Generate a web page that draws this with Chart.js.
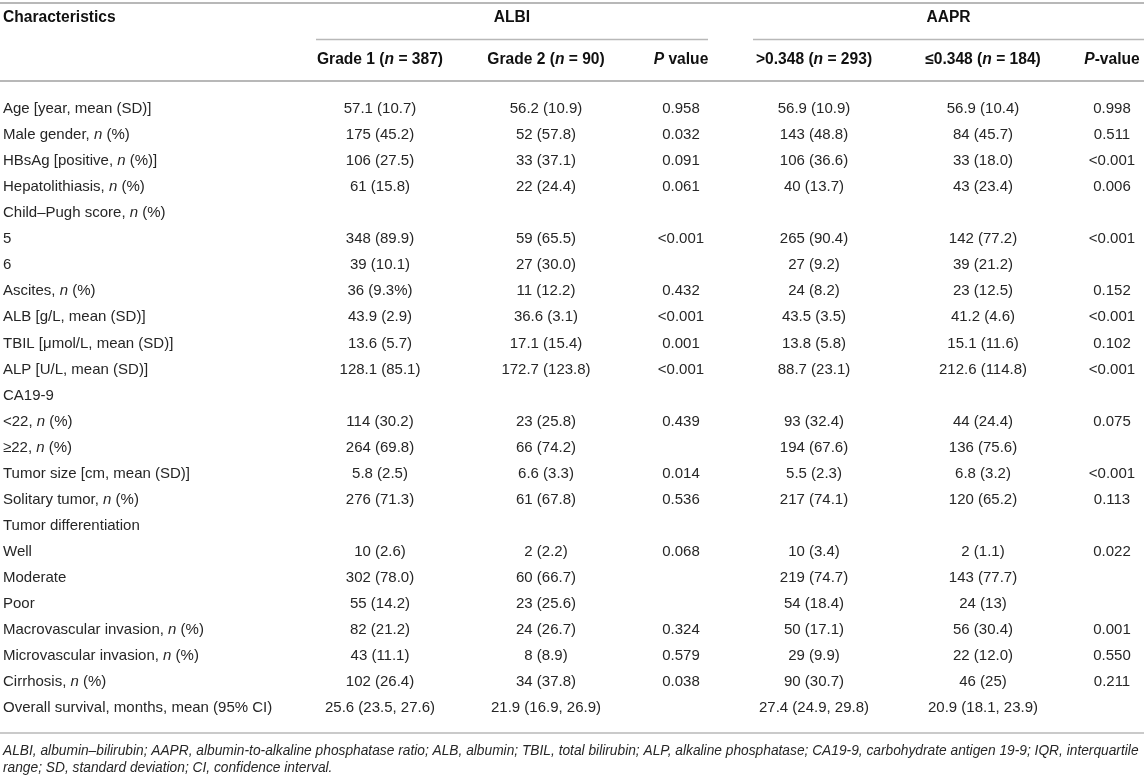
<!DOCTYPE html>
<html>
<head>
<meta charset="utf-8">
<title>ALBI / AAPR characteristics</title>
<script src="https://cdn.jsdelivr.net/npm/chart.js@4.4.1/dist/chart.umd.min.js"></script>
<style>
  html, body { margin: 0; padding: 0; background: #fff; }
  #wrap { width: 1144px; height: 780px; position: relative; }
</style>
</head>
<body>
<div id="wrap"><canvas id="table"></canvas></div>
<script>
// _x_ marks italic text
const rowLabels = [
  'Age [year, mean (SD)]',
  'Male gender, _n_ (%)',
  'HBsAg [positive, _n_ (%)]',
  'Hepatolithiasis, _n_ (%)',
  'Child\u2013Pugh score, _n_ (%)',
  '5',
  '6',
  'Ascites, _n_ (%)',
  'ALB [g/L, mean (SD)]',
  'TBIL [\u03bcmol/L, mean (SD)]',
  'ALP [U/L, mean (SD)]',
  'CA19-9',
  '<22, _n_ (%)',
  '\u226522, _n_ (%)',
  'Tumor size [cm, mean (SD)]',
  'Solitary tumor, _n_ (%)',
  'Tumor differentiation',
  'Well',
  'Moderate',
  'Poor',
  'Macrovascular invasion, _n_ (%)',
  'Microvascular invasion, _n_ (%)',
  'Cirrhosis, _n_ (%)',
  'Overall survival, months, mean (95% CI)'
];

const albiGrade1 = ['57.1 (10.7)', '175 (45.2)', '106 (27.5)', '61 (15.8)', '', '348 (89.9)', '39 (10.1)', '36 (9.3%)',
  '43.9 (2.9)', '13.6 (5.7)', '128.1 (85.1)', '', '114 (30.2)', '264 (69.8)', '5.8 (2.5)', '276 (71.3)', '',
  '10 (2.6)', '302 (78.0)', '55 (14.2)', '82 (21.2)', '43 (11.1)', '102 (26.4)', '25.6 (23.5, 27.6)'];
const albiGrade2 = ['56.2 (10.9)', '52 (57.8)', '33 (37.1)', '22 (24.4)', '', '59 (65.5)', '27 (30.0)', '11 (12.2)',
  '36.6 (3.1)', '17.1 (15.4)', '172.7 (123.8)', '', '23 (25.8)', '66 (74.2)', '6.6 (3.3)', '61 (67.8)', '',
  '2 (2.2)', '60 (66.7)', '23 (25.6)', '24 (26.7)', '8 (8.9)', '34 (37.8)', '21.9 (16.9, 26.9)'];
const albiP = ['0.958', '0.032', '0.091', '0.061', '', '<0.001', '', '0.432', '<0.001', '0.001', '<0.001', '',
  '0.439', '', '0.014', '0.536', '', '0.068', '', '', '0.324', '0.579', '0.038', ''];
const aaprHigh = ['56.9 (10.9)', '143 (48.8)', '106 (36.6)', '40 (13.7)', '', '265 (90.4)', '27 (9.2)', '24 (8.2)',
  '43.5 (3.5)', '13.8 (5.8)', '88.7 (23.1)', '', '93 (32.4)', '194 (67.6)', '5.5 (2.3)', '217 (74.1)', '',
  '10 (3.4)', '219 (74.7)', '54 (18.4)', '50 (17.1)', '29 (9.9)', '90 (30.7)', '27.4 (24.9, 29.8)'];
const aaprLow = ['56.9 (10.4)', '84 (45.7)', '33 (18.0)', '43 (23.4)', '', '142 (77.2)', '39 (21.2)', '23 (12.5)',
  '41.2 (4.6)', '15.1 (11.6)', '212.6 (114.8)', '', '44 (24.4)', '136 (75.6)', '6.8 (3.2)', '120 (65.2)', '',
  '2 (1.1)', '143 (77.7)', '24 (13)', '56 (30.4)', '22 (12.0)', '46 (25)', '20.9 (18.1, 23.9)'];
const aaprP = ['0.998', '0.511', '<0.001', '0.006', '', '<0.001', '', '0.152', '<0.001', '0.102', '<0.001', '',
  '0.075', '', '<0.001', '0.113', '', '0.022', '', '', '0.001', '0.550', '0.211', ''];

const groupHeaders = ['ALBI', 'AAPR'];
const columnHeaders = ['Grade 1 (_n_ = 387)', 'Grade 2 (_n_ = 90)', '_P_ value',
  '>0.348 (_n_ = 293)', '\u22640.348 (_n_ = 184)', '_P_-value'];
const footnote = [
  '_ALBI, albumin\u2013bilirubin; AAPR, albumin-to-alkaline phosphatase ratio; ALB, albumin; TBIL, total bilirubin; ALP, alkaline phosphatase; CA19-9, carbohydrate antigen 19-9; IQR, interquartile_',
  '_range; SD, standard deviation; CI, confidence interval._'
];

// layout (x in scale units of the table width)
const FAMILY = '"Liberation Sans", Arial, Helvetica, sans-serif';
const labelX = 3;
const columnX = [380, 546, 681, 814, 983, 1112];
const groupSpans = [[316, 708], [753, 1144]];
const footnoteRight = 1140;

const valueColumns = [albiGrade1, albiGrade2, albiP, aaprHigh, aaprLow, aaprP];

function fontFor(italic, weight, size) {
  return (italic ? 'italic ' : '') + weight + ' ' + size + 'px ' + FAMILY;
}

function richWidth(ctx, text, weight, size) {
  return text.split('_').reduce((sum, p, i) => {
    ctx.font = fontFor(i % 2, weight, size);
    return sum + ctx.measureText(p).width;
  }, 0);
}

function drawRich(ctx, text, x, y, align, weight, size, color) {
  const parts = text.split('_');
  const total = richWidth(ctx, text, weight, size);
  let cx = align === 'center' ? x - total / 2 : align === 'right' ? x - total : x;
  ctx.fillStyle = color;
  ctx.textAlign = 'left';
  ctx.textBaseline = 'middle';
  parts.forEach((p, i) => {
    ctx.font = fontFor(i % 2, weight, size);
    ctx.fillText(p, cx, y);
    cx += ctx.measureText(p).width;
  });
}

function hLine(ctx, x1, x2, y, w) {
  ctx.save();
  ctx.strokeStyle = '#b8b8b8';
  ctx.lineWidth = w;
  ctx.beginPath();
  ctx.moveTo(x1, y);
  ctx.lineTo(x2, y);
  ctx.stroke();
  ctx.restore();
}

const tablePlugin = {
  id: 'tableText',
  afterDatasetsDraw(chart) {
    const ctx = chart.ctx;
    const xs = chart.scales.x;
    const area = chart.chartArea;
    const full = [xs.getPixelForValue(0), xs.getPixelForValue(1144)];
    ctx.save();

    // rules
    hLine(ctx, full[0], full[1], 3, 2);
    groupSpans.forEach(s => hLine(ctx, xs.getPixelForValue(s[0]), xs.getPixelForValue(s[1]), 39.5, 1.5));
    hLine(ctx, full[0], full[1], 81, 2);
    hLine(ctx, full[0], full[1], area.bottom + 12, 1.5);

    // headers
    drawRich(ctx, 'Characteristics', xs.getPixelForValue(labelX), 18, 'left', 'bold', 15.6, '#111');
    groupHeaders.forEach((g, i) => {
      const mid = (xs.getPixelForValue(groupSpans[i][0]) + xs.getPixelForValue(groupSpans[i][1])) / 2;
      drawRich(ctx, g, mid, 18, 'center', 'bold', 15.6, '#111');
    });
    columnHeaders.forEach((h, i) => {
      drawRich(ctx, h, xs.getPixelForValue(columnX[i]), 60, 'center', 'bold', 15.6, '#111');
    });

    // cells, positioned by the dataset points
    chart.data.datasets.forEach((ds, di) => {
      const meta = chart.getDatasetMeta(di);
      meta.data.forEach((pt, i) => {
        const txt = ds.cells[i];
        if (!txt) return;
        drawRich(ctx, txt, pt.x, pt.y, ds.align, 'normal', 15, '#262626');
      });
    });

    // footnote, first line fills the table width
    const avail = xs.getPixelForValue(footnoteRight) - xs.getPixelForValue(labelX);
    const fs = 14 * avail / richWidth(ctx, footnote[0], 'normal', 14);
    footnote.forEach((f, i) => {
      drawRich(ctx, f, xs.getPixelForValue(labelX), area.bottom + 30 + i * 17.5, 'left', 'normal', fs, '#262626');
    });
    ctx.restore();
  }
};

const datasets = [{
  label: 'Characteristics',
  cells: rowLabels,
  align: 'left',
  data: rowLabels.map((r, i) => ({ x: labelX, y: i }))
}].concat(valueColumns.map((col, c) => ({
  label: columnHeaders[c],
  cells: col,
  align: 'center',
  data: col.map((v, i) => ({ x: columnX[c], y: i }))
})));

datasets.forEach(d => { d.pointRadius = 0; d.pointHoverRadius = 0; d.showLine = false; });

new Chart(document.getElementById('table'), {
  type: 'scatter',
  data: { labels: rowLabels, datasets },
  options: {
    responsive: true,
    maintainAspectRatio: false,
    animation: false,
    layout: { padding: { top: 96, bottom: 59, left: 0, right: 0 } },
    plugins: { legend: { display: false }, tooltip: { enabled: false } },
    scales: {
      x: { type: 'linear', min: 0, max: 1144, display: false },
      y: { type: 'category', labels: rowLabels, offset: true, display: false }
    }
  },
  plugins: [tablePlugin]
});
</script>
</body>
</html>
